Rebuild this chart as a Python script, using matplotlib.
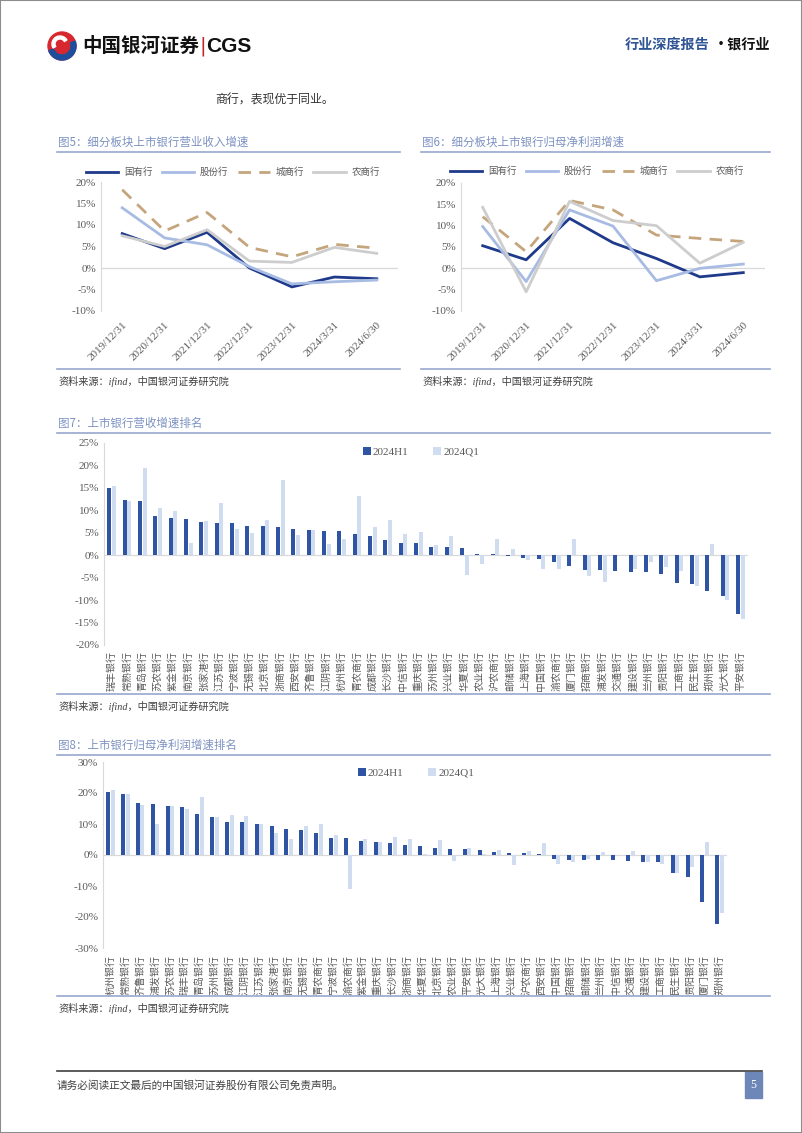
import matplotlib.pyplot as plt
from matplotlib.patches import Rectangle, Circle, Wedge
from matplotlib.lines import Line2D
import numpy as np

plt.rcParams['font.family'] = ['Liberation Serif', 'Noto Sans CJK SC']
CJK = ['Noto Sans CJK SC', 'DejaVu Sans']

# ---- 图5 / 图6：细分板块增速 (%) ----
dates = ["2019/12/31", "2020/12/31", "2021/12/31", "2022/12/31",
         "2023/12/31", "2024/3/31", "2024/6/30"]
groups = ["国有行", "股份行", "城商行", "农商行"]

rev_state = [8.0, 4.5, 8.3, 0.0, -4.4, -2.1, -2.5]
rev_joint = [14.0, 7.0, 5.4, 0.3, -3.7, -3.2, -2.8]
rev_city = [18.2, 8.6, 12.9, 4.8, 2.6, 5.5, 4.6]
rev_rural = [7.5, 5.0, 8.9, 1.6, 1.3, 4.8, 3.4]

np_state = [5.3, 2.0, 11.7, 6.0, 2.3, -2.0, -1.0]
np_joint = [9.8, -3.1, 13.7, 9.9, -2.9, 0.0, 1.0]
np_city = [12.1, 3.9, 15.9, 13.7, 7.8, 7.0, 6.3]
np_rural = [14.3, -5.5, 15.7, 11.2, 10.0, 1.2, 6.1]

# ---- 图7：营收增速排名 (%) ----
banks7 = ["瑞丰银行", "常熟银行", "青岛银行", "苏农银行", "紫金银行", "南京银行", "张家港行",
          "江苏银行", "宁波银行", "无锡银行", "北京银行", "浙商银行", "西安银行", "齐鲁银行",
          "江阴银行", "杭州银行", "青农商行", "成都银行", "长沙银行", "中信银行", "重庆银行",
          "苏州银行", "兴业银行", "华夏银行", "农业银行", "沪农商行", "邮储银行", "上海银行",
          "中国银行", "渝农商行", "厦门银行", "招商银行", "浦发银行", "交通银行", "建设银行",
          "兰州银行", "贵阳银行", "工商银行", "民生银行", "郑州银行", "光大银行", "平安银行"]
rev_h1 = [15.0, 12.2, 12.0, 8.7, 8.2, 8.0, 7.4, 7.2, 7.2, 6.5, 6.4, 6.2, 5.8, 5.6,
          5.4, 5.3, 4.8, 4.3, 3.3, 2.7, 2.7, 1.9, 1.8, 1.5, 0.3, 0.2, -0.15, -0.6,
          -0.8, -1.5, -2.3, -3.3, -3.4, -3.6, -3.7, -3.7, -4.1, -6.1, -6.4, -7.9, -9.0, -13.2]
rev_q1 = [15.4, 12.1, 19.4, 10.6, 9.9, 2.8, 7.6, 11.7, 5.8, 5.0, 7.9, 16.7, 4.4, 5.6,
          2.5, 3.6, 13.3, 6.3, 7.9, 4.7, 5.2, 2.2, 4.2, -4.4, -1.9, 3.7, 1.4, -1.0,
          -3.0, -3.0, 3.7, -4.7, -5.9, 0.0, -3.0, -1.5, -2.6, -3.5, -6.9, 2.4, -9.9, -14.1]

# ---- 图8：归母净利润增速排名 (%) ----
banks8 = ["杭州银行", "常熟银行", "齐鲁银行", "浦发银行", "苏农银行", "瑞丰银行", "青岛银行",
          "苏州银行", "成都银行", "江阴银行", "江苏银行", "张家港行", "南京银行", "无锡银行",
          "青农商行", "宁波银行", "渝农商行", "紫金银行", "重庆银行", "长沙银行", "浙商银行",
          "华夏银行", "北京银行", "农业银行", "平安银行", "光大银行", "上海银行", "兴业银行",
          "沪农商行", "西安银行", "中国银行", "招商银行", "邮储银行", "兰州银行", "中信银行",
          "交通银行", "建设银行", "工商银行", "民生银行", "贵阳银行", "厦门银行", "郑州银行"]
np_h1 = [20.2, 19.7, 16.9, 16.6, 15.7, 15.4, 13.1, 12.2, 10.6, 10.6, 10.0, 9.3, 8.4, 8.2,
         7.2, 5.4, 5.4, 4.5, 4.1, 4.0, 3.3, 2.9, 2.4, 1.9, 1.8, 1.6, 0.9, 0.8,
         0.6, 0.3, -1.4, -1.5, -1.7, -1.7, -1.7, -1.8, -2.2, -2.2, -5.7, -7.2, -15.1, -22.2]
np_q1 = [21.1, 19.7, 16.0, 10.0, 15.7, 14.8, 18.7, 12.2, 12.8, 12.6, 10.0, 7.0, 5.2, 9.4,
         10.1, 6.3, -11.0, 5.3, 4.1, 5.8, 5.2, 0.3, 4.9, -1.9, 2.2, 0.2, 1.6, -3.2,
         1.3, 3.9, -3.0, -2.2, -1.3, 0.9, 0.1, 1.4, -2.3, -2.8, -5.7, -3.8, 4.3, -18.7]

W, H = 802, 1133
TICK = '#595959'
TITLE = '#7d92c2'
RULE = '#97a7cf'


def fx(x):
    return x / W


def fy(y):
    return 1 - y / H


def add_ax(left, top, right, bottom):
    ax = fig.add_axes([fx(left), fy(bottom), (right - left) / W, (bottom - top) / H])
    for s in ['top', 'right', 'bottom']:
        ax.spines[s].set_visible(False)
    ax.spines['left'].set_color('#d9d9d9')
    ax.tick_params(length=0, colors=TICK, labelsize=8)
    ax.axhline(0, color='#d9d9d9', lw=0.9, zorder=1)
    ax.set_facecolor('none')
    return ax


def line_chart(left, top, right, bottom, series, leg_x, leg_y):
    ax = add_ax(left, top, right, bottom)
    x = np.arange(len(dates))
    colors = ['#1f3a8a', '#a7bbe3', '#c4a57c', '#cdcdcd']
    for name, vals, c in zip(groups, series, colors):
        if name == "城商行":
            ax.plot(x, vals, color=c, lw=2.0, dashes=(4.5, 3), label=name, zorder=3)
        else:
            ax.plot(x, vals, color=c, lw=2.0, label=name, zorder=3)
    ax.set_xlim(-0.5, len(dates) - 0.5)
    ax.set_ylim(-10, 20)
    ax.set_yticks(range(-10, 25, 5))
    ax.set_yticklabels([f'{v}%' for v in range(-10, 25, 5)])
    ax.set_xticks(x)
    ax.set_xticklabels(dates, rotation=45, ha='right', rotation_mode='anchor', fontsize=8)
    ax.tick_params(axis='x', pad=7)
    ax.legend(ncol=4, loc='center', bbox_to_anchor=(fx(leg_x), fy(leg_y)),
              bbox_transform=fig.transFigure, frameon=False, handlelength=3.4,
              handletextpad=0.6, columnspacing=1.0, prop={'family': CJK, 'size': 6.8},
              labelcolor=TICK)
    return ax


def bar_chart(left, top, right, bottom, banks, h1, q1, ylim, step, leg_x, leg_y, pad):
    ax = add_ax(left, top, right, bottom)
    x = np.arange(len(banks))
    ax.bar(x - 0.15, h1, width=0.27, color='#2f54a3', label='2024H1', zorder=2)
    ax.bar(x + 0.15, q1, width=0.27, color='#d0dcef', label='2024Q1', zorder=2)
    ax.set_xlim(-0.5, len(banks) - 0.5)
    ax.set_ylim(*ylim)
    ticks = list(range(ylim[0], ylim[1] + 1, step))
    ax.set_yticks(ticks)
    ax.set_yticklabels([f'{v}%' for v in ticks])
    ax.set_xticks(x)
    ax.set_xticklabels(banks, rotation=90, fontsize=7.2, family=CJK, va='top')
    ax.tick_params(axis='x', pad=pad)
    ax.legend(ncol=2, loc='center', bbox_to_anchor=(fx(leg_x), fy(leg_y)),
              bbox_transform=fig.transFigure, frameon=False, handlelength=0.7,
              handleheight=0.7, handletextpad=0.2, columnspacing=2.2,
              prop={'size': 8}, labelcolor=TICK)
    return ax


fig = plt.figure(figsize=(W / 100, H / 100), dpi=100)

# 页面边框
fig.patches.append(Rectangle((0, 0), 1, 1, transform=fig.transFigure, fill=False,
                             edgecolor='#8c8c8c', lw=1.5))

# 页眉 logo
fig.patches.append(Circle((62, H - 46), 14, transform=None, color='#d7282f'))
fig.patches.append(Wedge((62, H - 46), 14, 200, 20, width=5, transform=None, color='#1d4f9c'))
fig.patches.append(Wedge((60, H - 44), 8, 30, 210, width=3, transform=None, color='white'))
fig.text(fx(82), fy(46), '中国银河证券', fontsize=14, weight='bold', family=CJK,
         va='center', color='#111111')
fig.text(fx(199), fy(46), '|', fontsize=14, family='DejaVu Sans', va='center', color='#c0272d')
fig.text(fx(206), fy(46), 'CGS', fontsize=15, weight='bold', family='Liberation Sans',
         va='center', color='#111111')
fig.text(fx(625), fy(45), '行业深度报告', fontsize=10.2, family=CJK, va='center',
         color='#2f5496', weight='bold')
fig.text(fx(714), fy(45), '·银行业', fontsize=10.2, family=CJK, va='center',
         color='#111111', weight='bold')

fig.text(fx(215), fy(100), '商行，表现优于同业。', fontsize=8.6, family=CJK, va='center',
         color='#333333')

# 图标题与分隔线
def title(x0, x1, y, text):
    fig.text(fx(x0 + 1), fy(y - 10), text, fontsize=8.3, family=CJK, va='center', color=TITLE)
    fig.lines.append(Line2D([fx(x0), fx(x1)], [fy(y), fy(y)], transform=fig.transFigure,
                            color=RULE, lw=1.2))


def source(x0, x1, y):
    fig.lines.append(Line2D([fx(x0), fx(x1)], [fy(y), fy(y)], transform=fig.transFigure,
                            color=RULE, lw=1.2))
    fig.text(fx(x0 + 1), fy(y + 12), '资料来源：ifind，中国银河证券研究院', fontsize=7.3,
             style='italic', va='center', color='#404040')


title(57, 400, 152, '图5：细分板块上市银行营业收入增速')
title(421, 770, 152, '图6：细分板块上市银行归母净利润增速')
source(57, 400, 369)
source(421, 770, 369)

line_chart(101, 182, 398, 311, [rev_state, rev_joint, rev_city, rev_rural], 233, 172)
line_chart(461, 183, 765, 311, [np_state, np_joint, np_city, np_rural], 597, 171)

title(57, 770, 433, '图7：上市银行营收增速排名')
bar_chart(104, 443, 748, 645, banks7, rev_h1, rev_q1, (-20, 25), 5, 421, 452, 4)
source(57, 770, 694)

title(57, 770, 755, '图8：上市银行归母净利润增速排名')
bar_chart(103, 762, 727, 948, banks8, np_h1, np_q1, (-30, 30), 10, 416, 773, 5)
source(57, 770, 996)

# 页脚
fig.lines.append(Line2D([fx(57), fx(762)], [fy(1071), fy(1071)], transform=fig.transFigure,
                        color='#404040', lw=1.2))
fig.text(fx(57), fy(1085), '请务必阅读正文最后的中国银河证券股份有限公司免责声明。', fontsize=7.7,
         family=CJK, va='center', color='#404040')
fig.patches.append(Rectangle((fx(745), fy(1098)), 17 / W, 26 / H, transform=fig.transFigure,
                             color='#6d87b8'))
fig.text(fx(753.5), fy(1085), '5', fontsize=8.5, ha='center', va='center', color='white')

plt.savefig('out.png', dpi=100)
